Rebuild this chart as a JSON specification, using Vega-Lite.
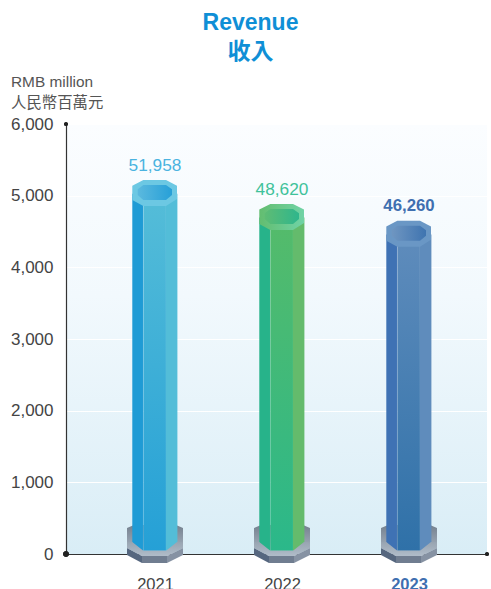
{"$schema":"https://vega.github.io/schema/vega-lite/v6.json","width":421,"height":430,"autosize":{"type":"none"},"padding":{"left":66,"top":124,"right":4,"bottom":35},"background":"white",
"title":{"text":["Revenue","收入"],"font":"Liberation Sans, Noto Sans CJK TC","fontSize":23,"fontWeight":"bold","color":"#0f8fd6","lineHeight":29,"anchor":"middle","frame":"group","dx":-26,"offset":10},
"view":{"stroke":null,"fill":{"gradient":"linear","x1":0,"y1":0,"x2":0,"y2":1,"stops":[{"offset":0,"color":"#fbfdff"},{"offset":0.4,"color":"#f2f9fd"},{"offset":1,"color":"#d9edf6"}]}},
"config":{"font":"Liberation Sans"},
"data":{"values":[{"year":2021,"revenue":51958,"label":"51,958"},{"year":2022,"revenue":48620,"label":"48,620"},{"year":2023,"revenue":46260,"label":"46,260"}]},
"encoding":{
"x":{"field":"year","type":"quantitative","scale":{"domain":[2020.2992,2023.6142],"nice":false,"zero":false,"padding":0},"axis":{"values":[2021,2022,2023],"format":"d","title":null,"grid":false,"ticks":false,"domainColor":"#333333","domainWidth":1.2,"labelPadding":22,"labelFontSize":16.5,"labelFont":"Liberation Sans","labelColor":{"condition":{"test":"datum.value==2023","value":"#3f6fb0"},"value":"#444444"},"labelFontWeight":{"condition":{"test":"datum.value==2023","value":"bold"},"value":"normal"},"labelOverlap":false}},
"y":{"field":"revenue","type":"quantitative","scale":{"domain":[0,60000],"nice":false},"axis":{"values":[0,10000,20000,30000,40000,50000,60000],"labelExpr":"format(datum.value/10,',')","grid":true,"gridColor":"#ffffff","gridWidth":1.2,"ticks":false,"domainColor":"#333333","domainWidth":1.2,"labelPadding":13,"labelFontSize":17,"labelColor":"#444444","labelFont":"Liberation Sans","title":["RMB million","人民幣百萬元"],"titleFont":"Liberation Sans, Noto Sans CJK TC","titleFontSize":15.4,"titleFontWeight":"normal","titleColor":"#555555","titleAngle":0,"titleAlign":"left","titleBaseline":"alphabetic","titleX":-55.5,"titleY":-38,"titleLineHeight":21}}
},
"layer":[
{"mark":{"type":"point","shape":"M-28,-26L-21,-29L21,-29L28,-26L28,-6L12,2L-13,2L-28,-6Z","size":4,"filled":true,"opacity":1,"fill":{"gradient":"linear","x1":0,"y1":0,"x2":0,"y2":1,"stops":[{"offset":0,"color":"#75818f"},{"offset":1,"color":"#b0bcc9"}]}},"encoding":{"y":{"datum":0}}},
{"mark":{"type":"point","shape":"M-28,-6L-13,2L-13,9L-28,1Z","size":4,"filled":true,"opacity":1,"fill":"#56677f"},"encoding":{"y":{"datum":0}}},
{"mark":{"type":"point","shape":"M-13,2L12,2L12,9L-13,9Z","size":4,"filled":true,"opacity":1,"fill":"#707d90"},"encoding":{"y":{"datum":0}}},
{"mark":{"type":"point","shape":"M12,2L28,-6L28,1L12,9Z","size":4,"filled":true,"opacity":1,"fill":"#8692a3"},"encoding":{"y":{"datum":0}}},

{"transform":[{"filter":"datum.year==2021"}],"layer":[
{"mark":{"type":"bar","size":11,"xOffset":-17.2,"yOffset":12,"y2Offset":0,"fill":"#1f9bd5"},"encoding":{"y2":{"datum":460}}},
{"mark":{"type":"bar","size":22.7,"xOffset":-0.3,"yOffset":12,"y2Offset":0,"stroke":"#ffffff","strokeOpacity":0.2,"strokeWidth":0.6,"fill":{"gradient":"linear","x1":0,"y1":0,"x2":0,"y2":1,"stops":[{"offset":0,"color":"#55bdd8"},{"offset":1,"color":"#25a0d6"}]}},"encoding":{"y2":{"datum":460}}},
{"mark":{"type":"bar","size":11.4,"xOffset":16.7,"yOffset":12,"y2Offset":0,"fill":"#53bdd8"},"encoding":{"y2":{"datum":460}}},
{"mark":{"type":"point","shape":"M-11.7,-1.6L11,-1.6L22,4L22,17.4L11,24.4L-11.7,24.4L-22.7,18.4L-22.7,4Z","size":4,"filled":true,"opacity":1,"fill":"#6cc8e3"}},
{"mark":{"type":"point","shape":"M-11.7,3.4L11,3.4L17,7.7L17,13.4L11,18.4L-11.7,18.4L-17.3,13.4L-17.3,7.7Z","size":4,"filled":true,"opacity":1,"fill":{"gradient":"linear","x1":0,"y1":0,"x2":1,"y2":0,"stops":[{"offset":0,"color":"#5bb9de"},{"offset":1,"color":"#27a0d8"}]}}},
{"mark":{"type":"text","fontSize":17.3,"dy":-7,"color":"#4ab3e0","baseline":"bottom"},"encoding":{"text":{"field":"label"}}}
]},
{"transform":[{"filter":"datum.year==2022"}],"layer":[
{"mark":{"type":"bar","size":11,"xOffset":-17.2,"yOffset":12,"y2Offset":0,"fill":"#27b38a"},"encoding":{"y2":{"datum":460}}},
{"mark":{"type":"bar","size":22.7,"xOffset":-0.3,"yOffset":12,"y2Offset":0,"stroke":"#ffffff","strokeOpacity":0.15,"strokeWidth":0.6,"fill":{"gradient":"linear","x1":0,"y1":0,"x2":0,"y2":1,"stops":[{"offset":0,"color":"#55bb6a"},{"offset":1,"color":"#2bb88a"}]}},"encoding":{"y2":{"datum":460}}},
{"mark":{"type":"bar","size":11.4,"xOffset":16.7,"yOffset":12,"y2Offset":0,"fill":"#64bb6c"},"encoding":{"y2":{"datum":460}}},
{"mark":{"type":"point","shape":"M-11.7,-1.6L11,-1.6L22,4L22,17.4L11,24.4L-11.7,24.4L-22.7,18.4L-22.7,4Z","size":4,"filled":true,"opacity":1,"fill":{"gradient":"linear","x1":0,"y1":0,"x2":1,"y2":0,"stops":[{"offset":0,"color":"#63bd70"},{"offset":1,"color":"#70d3a6"}]}}},
{"mark":{"type":"point","shape":"M-11.7,3.4L11,3.4L17,7.7L17,13.4L11,18.4L-11.7,18.4L-17.3,13.4L-17.3,7.7Z","size":4,"filled":true,"opacity":1,"fill":{"gradient":"linear","x1":0,"y1":0,"x2":1,"y2":0,"stops":[{"offset":0,"color":"#5ebc74"},{"offset":1,"color":"#2fb68c"}]}}},
{"mark":{"type":"text","fontSize":17.3,"dy":-7,"color":"#3fc29a","baseline":"bottom"},"encoding":{"text":{"field":"label"}}}
]},
{"transform":[{"filter":"datum.year==2023"}],"layer":[
{"mark":{"type":"bar","size":11,"xOffset":-17.2,"yOffset":12,"y2Offset":0,"fill":"#3f72b4"},"encoding":{"y2":{"datum":460}}},
{"mark":{"type":"bar","size":22.7,"xOffset":-0.3,"yOffset":12,"y2Offset":0,"stroke":"#ffffff","strokeOpacity":0.25,"strokeWidth":0.6,"fill":{"gradient":"linear","x1":0,"y1":0,"x2":0,"y2":1,"stops":[{"offset":0,"color":"#5f8cbc"},{"offset":1,"color":"#2f71a8"}]}},"encoding":{"y2":{"datum":460}}},
{"mark":{"type":"bar","size":11.4,"xOffset":16.7,"yOffset":12,"y2Offset":0,"fill":"#5f8cbc"},"encoding":{"y2":{"datum":460}}},
{"mark":{"type":"point","shape":"M-11.7,-1.6L11,-1.6L22,4L22,17.4L11,24.4L-11.7,24.4L-22.7,18.4L-22.7,4Z","size":4,"filled":true,"opacity":1,"fill":"#6a97c5"}},
{"mark":{"type":"point","shape":"M-11.7,3.4L11,3.4L17,7.7L17,13.4L11,18.4L-11.7,18.4L-17.3,13.4L-17.3,7.7Z","size":4,"filled":true,"opacity":1,"fill":{"gradient":"linear","x1":0,"y1":0,"x2":1,"y2":0,"stops":[{"offset":0,"color":"#6f96c1"},{"offset":1,"color":"#3f74b0"}]}}},
{"mark":{"type":"text","fontSize":16.8,"fontWeight":"bold","dy":-7,"color":"#3f6fb0","baseline":"bottom"},"encoding":{"text":{"field":"label"}}}
]},

{"mark":{"type":"point","shape":"M-28,-12L-22.7,-12L-11.7,-3.3L11,-3.3L22,-12L28,-12L28,-6L12,2L-13,2L-28,-6Z","size":4,"filled":true,"opacity":1,"fill":{"gradient":"linear","x1":0,"y1":0,"x2":0,"y2":1,"stops":[{"offset":0,"color":"#98a4b1"},{"offset":1,"color":"#b0bcc9"}]}},"encoding":{"y":{"datum":0}}},

{"mark":{"type":"point","filled":true,"opacity":1,"size":14,"color":"#222222"},"encoding":{"x":{"datum":2020.2992},"y":{"datum":60000}}},
{"mark":{"type":"point","filled":true,"opacity":1,"size":30,"color":"#222222"},"encoding":{"x":{"datum":2020.2992},"y":{"datum":0}}},
{"mark":{"type":"point","filled":true,"opacity":1,"size":14,"color":"#222222"},"encoding":{"x":{"datum":2023.6142},"y":{"datum":0}}}
]}
